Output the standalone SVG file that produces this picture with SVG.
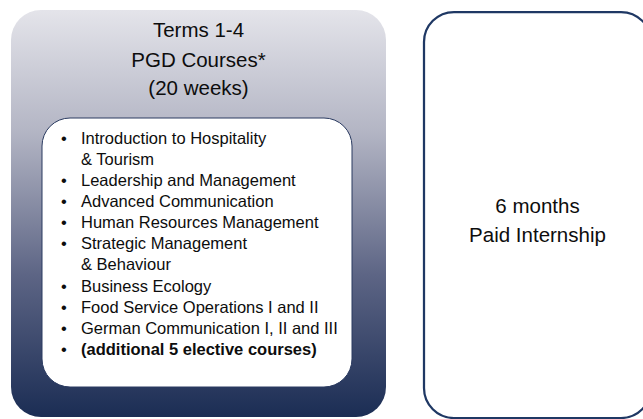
<svg xmlns="http://www.w3.org/2000/svg" width="643" height="419" viewBox="0 0 643 419">
  <defs>
    <linearGradient id="grad" x1="0" y1="0" x2="0" y2="1">
      <stop offset="0" stop-color="#e4e4ea"/>
      <stop offset="0.3" stop-color="#b3b5c4"/>
      <stop offset="0.65" stop-color="#5d6585"/>
      <stop offset="1" stop-color="#1b2d54"/>
    </linearGradient>
  </defs>
  <style>
    .title { font-family: "Liberation Sans", Arial, sans-serif; font-size: 20.5px; fill: #0d0d0d; text-anchor: middle; }
    .item { font-family: "Liberation Sans", Arial, sans-serif; font-size: 16.5px; fill: #0d0d0d; }
    .bullet { font-family: "Liberation Sans", Arial, sans-serif; font-size: 16.5px; fill: #0d0d0d; text-anchor: middle; }
    .bold { font-weight: bold; }
  </style>
  <rect width="643" height="419" fill="#ffffff"/>
  <g id="terms">
    <rect x="11" y="10" width="375" height="407" rx="30" ry="30" fill="url(#grad)"/>
    <text class="title" x="198.5" y="37">Terms 1-4</text>
    <text class="title" x="198.5" y="66.5">PGD Courses*</text>
    <text class="title" x="198.5" y="95">(20 weeks)</text>
  </g>
  <g id="courses">
    <rect x="42" y="118" width="310" height="269" rx="28" ry="28" fill="#ffffff" stroke="#2a3a60" stroke-width="1"/>
    <text class="bullet" x="64" y="143.5">•</text>
    <text class="item" x="81" y="143.5">Introduction to Hospitality</text>
    <text class="item" x="81" y="164.6">&amp; Tourism</text>
    <text class="bullet" x="64" y="185.8">•</text>
    <text class="item" x="81" y="185.8">Leadership and Management</text>
    <text class="bullet" x="64" y="206.9">•</text>
    <text class="item" x="81" y="206.9">Advanced Communication</text>
    <text class="bullet" x="64" y="228.1">•</text>
    <text class="item" x="81" y="228.1">Human Resources Management</text>
    <text class="bullet" x="64" y="249.2">•</text>
    <text class="item" x="81" y="249.2">Strategic Management</text>
    <text class="item" x="81" y="270.4">&amp; Behaviour</text>
    <text class="bullet" x="64" y="291.5">•</text>
    <text class="item" x="81" y="291.5">Business Ecology</text>
    <text class="bullet" x="64" y="312.7">•</text>
    <text class="item" x="81" y="312.7">Food Service Operations I and II</text>
    <text class="bullet" x="64" y="333.8">•</text>
    <text class="item" x="81" y="333.8">German Communication I, II and III</text>
    <text class="bullet" x="64" y="355">•</text>
    <text class="item bold" x="81" y="355">(additional 5 elective courses)</text>
  </g>
  <g id="internship">
    <rect x="424" y="12" width="227" height="406" rx="30" ry="30" fill="#ffffff" stroke="#1f3864" stroke-width="2.25"/>
    <text class="title" x="537.5" y="213">6 months</text>
    <text class="title" x="537.5" y="242">Paid Internship</text>
  </g>
  <g id="connectors"></g>
</svg>
